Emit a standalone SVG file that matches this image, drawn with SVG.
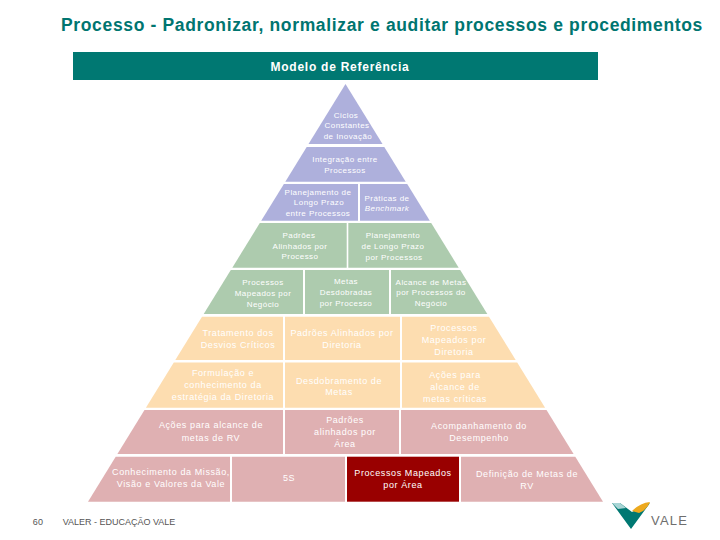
<svg xmlns="http://www.w3.org/2000/svg" width="720" height="540" viewBox="0 0 720 540">
<style>
text{font-family:"Liberation Sans",Arial,sans-serif;}
.l{font-size:9px;letter-spacing:.6px;fill:#fff;text-anchor:middle;}
.s{font-size:8px;letter-spacing:.45px;fill:#fff;text-anchor:middle;}
.p{fill:#AEB0DC}.g{fill:#ADCBAE}.o{fill:#FDDDB0}.r{fill:#DFB0B2}
</style>
<rect width="720" height="540" fill="#fff"/>
<text x="382" y="31" font-size="17.5" letter-spacing=".65" font-weight="700" fill="#007570" text-anchor="middle">Processo - Padronizar, normalizar e auditar processos e procedimentos</text>
<g id="header"><rect x="73" y="52" width="525" height="28" fill="#007872"/><text x="340" y="71" font-size="12" letter-spacing=".75" font-weight="700" fill="#fff" text-anchor="middle">Modelo de Referência</text></g>

<g id="n1"><polygon class="p" points="345.5,84 382.5,144 308.5,144"/><text class="s"><tspan x="346" y="118">Ciclos</tspan><tspan x="347" y="128">Constantes</tspan><tspan x="348" y="139">de Inovação</tspan></text></g>
<g id="n2"><polygon class="p" points="306.7,147 384.3,147 405.7,181.7 285.3,181.7"/><text class="s"><tspan x="345" y="162">Integração entre</tspan><tspan x="345" y="173">Processos</tspan></text></g>
<g id="n3"><polygon class="p" points="283.9,184 358,184 358,220.7 261.2,220.7"/><text class="s"><tspan x="318" y="195">Planejamento de</tspan><tspan x="319" y="205">Longo Prazo</tspan><tspan x="318" y="216">entre Processos</tspan></text></g>
<g id="n4"><polygon class="p" points="360,184 407.2,184 429.8,220.7 360,220.7"/><text class="s"><tspan x="387" y="201">Práticas de</tspan><tspan x="387" y="211" font-style="italic">Benchmark</tspan></text></g>

<g id="n5"><polygon class="g" points="259.8,223 346.7,223 346.7,267.7 232.3,267.7"/><text class="s"><tspan x="299" y="238">Padrões</tspan><tspan x="300" y="249">Alinhados por</tspan><tspan x="300" y="259">Processo</tspan></text></g>
<g id="n6"><polygon class="g" points="348.3,223 431.2,223 458.7,267.7 348.3,267.7"/><text class="s"><tspan x="393" y="238">Planejamento</tspan><tspan x="393" y="249">de Longo Prazo</tspan><tspan x="394" y="260">por Processos</tspan></text></g>
<g id="n7"><polygon class="g" points="230.8,270 303,270 303,314 203.7,314"/><text class="s"><tspan x="263" y="285">Processos</tspan><tspan x="263" y="296">Mapeados por</tspan><tspan x="263" y="307">Negócio</tspan></text></g>
<g id="n8"><polygon class="g" points="305,270 389,270 389,314 305,314"/><text class="s"><tspan x="346" y="284">Metas</tspan><tspan x="346" y="295">Desdobradas</tspan><tspan x="346" y="306">por Processo</tspan></text></g>
<g id="n9"><polygon class="g" points="391,270 460.2,270 487.3,314 391,314"/><text class="s"><tspan x="431" y="285">Alcance de Metas</tspan><tspan x="431" y="295">por Processos do</tspan><tspan x="431" y="306">Negócio</tspan></text></g>

<g id="n10"><polygon class="o" points="202,316.7 283,316.7 283,360 175.3,360"/><text class="l"><tspan x="238" y="336">Tratamento dos</tspan><tspan x="238" y="348">Desvios Críticos</tspan></text></g>
<g id="n11"><polygon class="o" points="285,316.7 400,316.7 400,360 285,360"/><text class="l"><tspan x="342" y="336">Padrões Alinhados por</tspan><tspan x="342" y="348">Diretoria</tspan></text></g>
<g id="n12"><polygon class="o" points="402,316.7 489,316.7 515.7,360 402,360"/><text class="l"><tspan x="454" y="331">Processos</tspan><tspan x="454" y="343">Mapeados por</tspan><tspan x="454" y="355">Diretoria</tspan></text></g>
<g id="n13"><polygon class="o" points="173.8,362.5 283,362.5 283,407.7 145.9,407.7"/><text class="l"><tspan x="223" y="376">Formulação e</tspan><tspan x="223" y="388">conhecimento da</tspan><tspan x="223" y="400">estratégia da Diretoria</tspan></text></g>
<g id="n14"><polygon class="o" points="285,362.5 400,362.5 400,407.7 285,407.7"/><text class="l"><tspan x="339" y="384">Desdobramento de</tspan><tspan x="339" y="395">Metas</tspan></text></g>
<g id="n15"><polygon class="o" points="402,362.5 517.2,362.5 545.1,407.7 402,407.7"/><text class="l"><tspan x="455" y="378">Ações para</tspan><tspan x="455" y="390">alcance de</tspan><tspan x="455" y="402">metas críticas</tspan></text></g>

<g id="n16"><polygon class="r" points="144.5,410 283,410 283,454 117.4,454"/><text class="l"><tspan x="211" y="428">Ações para alcance de</tspan><tspan x="211" y="441">metas de RV</tspan></text></g>
<g id="n17"><polygon class="r" points="285,410 399,410 399,454 285,454"/><text class="l"><tspan x="345" y="423">Padrões</tspan><tspan x="345" y="435">alinhados por</tspan><tspan x="345" y="447">Área</tspan></text></g>
<g id="n18"><polygon class="r" points="401,410 546.5,410 573.6,454 401,454"/><text class="l"><tspan x="479" y="429">Acompanhamento do</tspan><tspan x="479" y="441">Desempenho</tspan></text></g>
<g id="n19"><polygon class="r" points="115.7,456.7 230,456.7 230,501.7 88,501.7"/><text class="l"><tspan x="171" y="475">Conhecimento da Missão,</tspan><tspan x="171" y="487">Visão e Valores da Vale</tspan></text></g>
<g id="n20"><polygon class="r" points="232,456.7 345,456.7 345,501.7 232,501.7"/><text class="l"><tspan x="289" y="481">5S</tspan></text></g>
<g id="n21"><rect x="347" y="456.7" width="112" height="45" fill="#990000"/><text class="l"><tspan x="403" y="476">Processos Mapeados</tspan><tspan x="403" y="488">por Área</tspan></text></g>
<g id="n22"><polygon class="r" points="461,456.7 575.3,456.7 603,501.7 461,501.7"/><text class="l"><tspan x="527" y="477">Definição de Metas de</tspan><tspan x="527" y="489">RV</tspan></text></g>

<g id="footer"><text x="38" y="525" font-size="9" letter-spacing=".3" fill="#555" text-anchor="middle">60</text><text x="119" y="525" font-size="9" fill="#555" text-anchor="middle">VALER - EDUCAÇÃO VALE</text></g>
<g id="logo">
<polygon points="612,503 620,503 632,512 650,503 631,529" fill="#007872"/>
<polygon points="612,503 620,503 626,508 618,509" fill="#A8D5D5"/>
<path d="M632 511 Q640 503 650 502 Q647 510 639 513 Z" fill="#EDA91E"/>
<text x="651" y="525" font-size="13" letter-spacing="1.2" fill="#6E6E6E">VALE</text>
</g>
</svg>
